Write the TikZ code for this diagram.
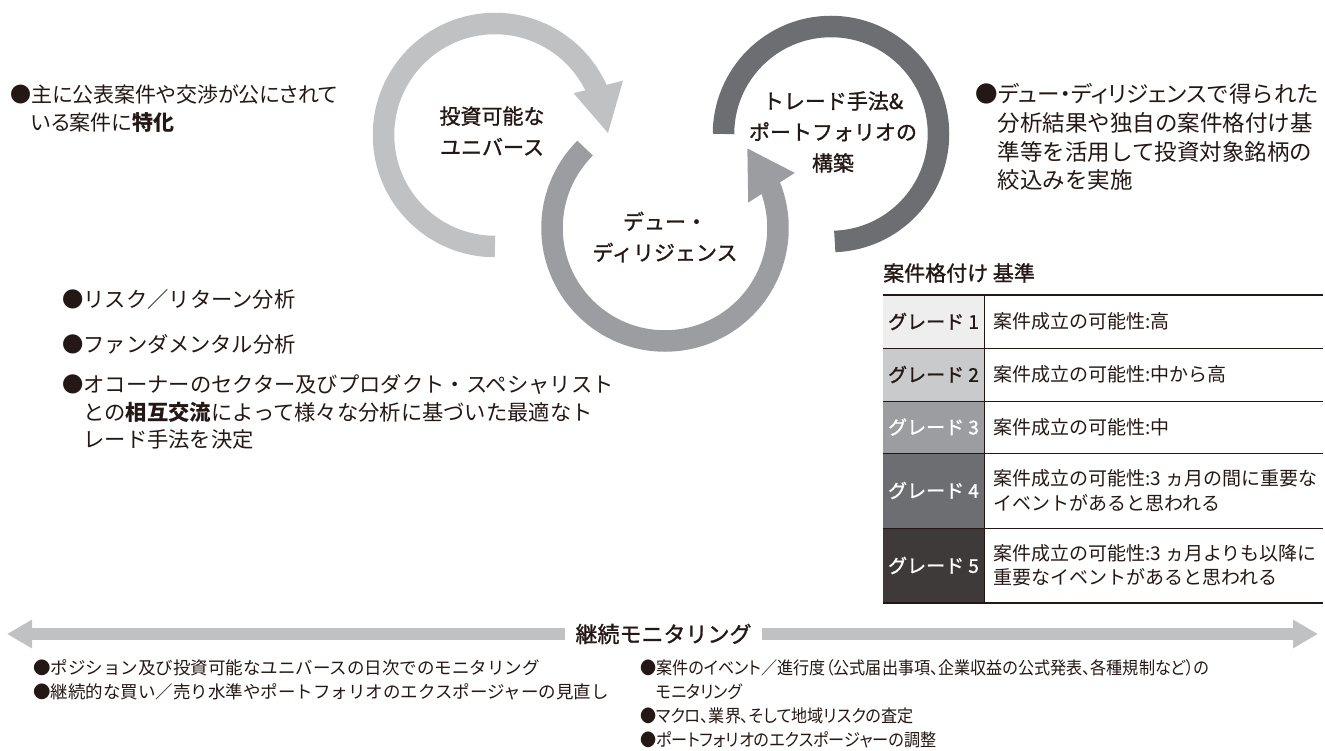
\documentclass[tikz,border=0pt]{standalone}
\usepackage{fontspec}
\setmainfont{Noto Sans CJK JP}
\newfontfamily\propjp[RawFeature=+palt]{Noto Sans CJK JP}
\newfontfamily\condjp[RawFeature=+palt,FakeStretch=0.92]{Noto Sans CJK JP}
\newfontfamily\midjp[FakeBold=1.2]{Noto Sans CJK JP}
\usetikzlibrary{calc,arrows.meta}
\definecolor{inkA}{HTML}{231815}
\definecolor{ringA}{HTML}{C0C1C3}
\definecolor{ringB}{HTML}{9C9DA0}
\definecolor{ringC}{HTML}{6D6E71}
\definecolor{gradeA}{HTML}{EEEEEF}
\definecolor{gradeB}{HTML}{C9CACB}
\definecolor{gradeC}{HTML}{9C9DA0}
\definecolor{gradeD}{HTML}{6D6E71}
\definecolor{gradeE}{HTML}{3E3A39}

\begin{document}
\begin{tikzpicture}[x=1pt,y=1pt,
    ring/.style={line width=21.5pt},
    lbl/.style={text=inkA,align=center,font=\midjp\fontsize{21}{31}\selectfont},
    txt/.style={text=inkA,align=left,inner sep=0pt,anchor=north west,font=\fontsize{21.3}{28}\selectfont},
    small/.style={txt,font=\fontsize{17.5}{24}\selectfont},
    grade/.style={inner sep=0pt,font=\midjp\fontsize{19}{24}\selectfont},
    cell/.style={text=inkA,align=left,anchor=west,inner sep=0pt,font=\fontsize{19}{24.5}\selectfont}]
    \useasboundingbox (0,0) rectangle (1325,-751);

    % the three rings
    \coordinate (uni) at (495,-135);
    \coordinate (dd) at (665,-228);
    \coordinate (port) at (831,-134);
    \draw[ring,ringA] ($(uni)+(270:111.5)$) arc[start angle=270,end angle=23,radius=111.5];
    \fill[ringA] ($(uni)+(28:89)$) -- ($(uni)+(23:139)$) -- ($(uni)+(1:113)$) -- cycle;
    \draw[ring,ringB] ($(dd)+(135:113)$) arc[start angle=135,end angle=382,radius=113];
    \fill[ringB] ($(dd)+(17:87)$) -- ($(dd)+(23:141)$) -- ($(dd)+(44:114.5)$) -- cycle;
    \draw[ring,ringC] ($(port)+(180:107.5)$) arc[start angle=180,end angle=-88,radius=107.5];

    \node[lbl] (uniL) at (492,-131) {投資可能な\\ユニバース};
    \node[lbl] (ddL) at (665,-237) {デュー・\\ディリジェンス};
    \node[lbl] (portL) at (833,-132) {トレード手法\&\\ポートフォリオの\\構築};

    % notes round the rings
    \node[txt,font=\propjp\fontsize{21}{28}\selectfont] (spec) at (10,-84.5) {●主に公表案件や交渉が公にされて\\\hphantom{●}いる案件に\textbf{特化}};
    \node[txt,font=\fontsize{22.5}{28.7}\selectfont] (dil) at (975,-83.5) {●{\propjp デュー・ディリジェンス}で得られた\\\hphantom{●}分析結果や独自の案件格付け基\\\hphantom{●}準等を活用して投資対象銘柄の\\\hphantom{●}絞込みを実施};
    \node[txt] (risk) at (62,-289.5) {●リスク／リターン分析};
    \node[txt] (fund) at (62,-334.5) {●ファンダメンタル分析};
    \node[txt,font=\fontsize{21.3}{27.5}\selectfont] (sect) at (62,-374.5) {●オコーナーのセクター及びプロダクト・スペシャリスト\\\hphantom{●}との\textbf{相互交流}によって様々な分析に基づいた最適なト\\\hphantom{●}レード手法を決定};

    % grading table
    \node[anchor=west,text=inkA,inner sep=0pt,font=\midjp\fontsize{21}{24}\selectfont] (ttl) at (883,-273) {案件格付け 基準};
    \fill[gradeA] (883,-295) rectangle (984,-348);
    \fill[gradeB] (883,-348) rectangle (984,-401);
    \fill[gradeC] (883,-401) rectangle (984,-453);
    \fill[gradeD] (883,-453) rectangle (984,-528);
    \fill[gradeE] (883,-528) rectangle (984,-603);
    \draw[inkA,line width=1.2pt] (883,-295) -- (1323,-295);
    \draw[inkA] (883,-348) -- (1323,-348);
    \draw[inkA] (883,-401) -- (1323,-401);
    \draw[inkA] (883,-453) -- (1323,-453);
    \draw[inkA] (883,-528) -- (1323,-528);
    \draw[inkA,line width=1.2pt] (883,-603) -- (1323,-603);
    \draw[inkA] (984,-295) -- (984,-603);
    \node[grade,text=inkA] (g1) at (933.5,-321.5) {グレード 1};
    \node[grade,text=inkA] (g2) at (933.5,-374.5) {グレード 2};
    \node[grade,text=white] (g3) at (933.5,-427) {グレード 3};
    \node[grade,text=white] (g4) at (933.5,-490.5) {グレード 4};
    \node[grade,text=white] (g5) at (933.5,-565.5) {グレード 5};
    \node[cell] (c1) at (993,-321.5) {案件成立の可能性:高};
    \node[cell] (c2) at (993,-374.5) {案件成立の可能性:中から高};
    \node[cell] (c3) at (993,-427) {案件成立の可能性:中};
    \node[cell] (c4) at (993,-490.5) {案件成立の可能性:3 ヵ月の間に重要な\\イベントがあると思われる};
    \node[cell] (c5) at (993,-565.5) {案件成立の可能性:3 ヵ月よりも以降に\\重要なイベントがあると思われる};

    % monitoring arrow
    \node[text=inkA,inner xsep=10pt,inner ysep=0pt,font=\midjp\fontsize{22}{26}\selectfont] (mon) at (663.5,-634) {継続モニタリング};
    \coordinate (monL) at (7,-634);
    \coordinate (monR) at (1318,-634);
    \draw[ringA,line width=12pt,-{Triangle[length=25pt,width=27pt]}] (mon.west) -- (monL);
    \draw[ringA,line width=12pt,-{Triangle[length=25pt,width=27pt]}] (mon.east) -- (monR);

    \node[small] (daily) at (33,-659.25) {●ポジション及び投資可能なユニバースの日次でのモニタリング\\●継続的な買い／売り水準やポートフォリオのエクスポージャーの見直し};
    \node[small,font=\condjp\fontsize{17.5}{24}\selectfont] (event) at (640,-659.25) {●案件のイベント／進行度（公式届出事項、企業収益の公式発表、各種規制など）の\\\hphantom{●}モニタリング\\●マクロ、業界、そして地域リスクの査定\\●ポートフォリオのエクスポージャーの調整};
\end{tikzpicture}
\end{document}
